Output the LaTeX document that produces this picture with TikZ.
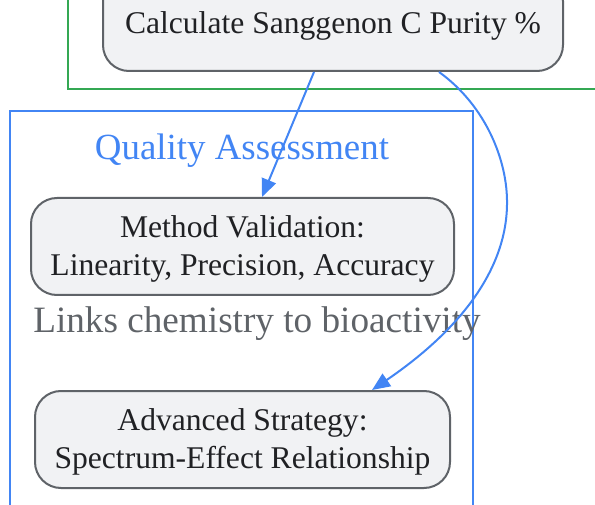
\documentclass[tikz,border=0pt]{standalone}
\usepackage{fontspec}
\setmainfont{Liberation Serif}
\usepackage{xcolor}
\usetikzlibrary{arrows.meta, positioning}

\definecolor{qblue}{HTML}{4285F4}
\definecolor{qgreen}{HTML}{34A853}
\definecolor{qgray}{HTML}{5F6368}
\definecolor{qfill}{HTML}{F1F2F4}
\definecolor{qtext}{HTML}{202124}

\tikzset{
	procbox/.style = {draw = qgray, line width = 2pt, fill = qfill, rounded corners = 26pt,
		align = center, text = qtext, font = \fontsize{31.6}{38}\selectfont, inner sep = 0pt,
		text depth = 1pt},
	flow/.style = {qblue, line width = 2pt, -{Triangle[length = 18pt, width = 15pt]}},
}

\begin{document}
\begin{tikzpicture}[x = 1pt, y = -1pt]
			\useasboundingbox (0,0) rectangle (595,505);
			
			\begin{scope}
				\clip (0,0) rectangle (595,505);
				
				% clusters
				\draw [qgreen, line width = 2pt] (68,-20) -- (68,89) -- (620,89);
				\draw [qblue, line width = 2pt] (10,530) -- (10,111) -- (473,111) -- (473,530);
				
				\node [procbox, minimum width = 460pt, minimum height = 96pt] (purity) at (333,23)
					{Calculate Sanggenon C Purity \%};
			\end{scope}
			
			\node [text = qblue, font = \fontsize{36.9}{44}\selectfont] (quality) at (242,151) {Quality Assessment};
			
			\node [procbox, minimum width = 423pt, minimum height = 97pt] (valid) at (242.5,246.5)
				{Method Validation:\\Linearity, Precision, Accuracy};
			\node [procbox, minimum width = 415pt, minimum height = 97pt] (advanced) at (242.5,439.5)
				{Advanced Strategy:\\Spectrum-Effect Relationship};
			
			\node [text = qgray, font = \fontsize{37.2}{44}\selectfont] (links) at (257,324) {Links chemistry to bioactivity};
			
			\draw [flow] (purity.south) ++(-19,0) coordinate (p1) -- (valid.north -| 262,0);
			\draw [flow] (purity.south) ++(106,0) coordinate (p2)
				.. controls (485,105) and (508,160) .. (507,205)
				.. controls (506,270) and (460,330) .. (advanced.north -| 372,0);
		\end{tikzpicture}
\end{document}
